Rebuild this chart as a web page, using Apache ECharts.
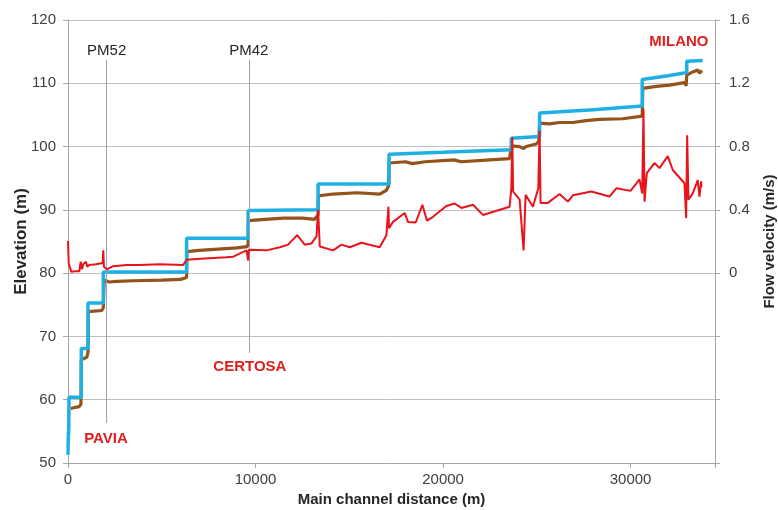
<!DOCTYPE html>
<html>
<head>
<meta charset="utf-8">
<script src="https://cdn.jsdelivr.net/npm/echarts@6/dist/echarts.min.js"></script>
<style>
html,body{margin:0;padding:0;background:#fff;}
#chart{width:778px;height:510px;}
</style>
</head>
<body>
<div id="chart"></div>
<script>
// Top of levee / channel (blue), elevation m vs distance m
const bankLevel = [
  [0,51.3],[20,55.0],[35,54.6],[55,60.4],[709,60.4],[709,68.1],[1066,68.1],[1066,75.3],
  [1881,75.3],[1881,80.2],[6324,80.2],[6324,85.5],[9606,85.5],[9606,89.9],[13335,90.0],
  [13335,94.1],[17118,94.1],[17118,98.8],[20000,99.1],[23639,99.5],[23639,101.3],
  [25147,101.6],[25147,105.3],[28000,105.8],[30618,106.4],[30618,110.6],[32000,111.2],
  [32994,111.7],[32994,113.5],[33846,113.6]
];
// Water surface (brown), elevation m
const waterLevel = [
  [150,58.6],[400,58.8],[600,58.9],[690,59.3],[709,66.3],[850,66.5],[1000,66.7],[1066,67.5],
  [1080,73.9],[1400,74.0],[1800,74.1],[1881,74.5],[1930,78.9],[2200,78.6],[2600,78.7],
  [3500,78.8],[5000,78.9],[6000,79.0],[6324,79.3],[6340,83.4],[7000,83.6],[8000,83.8],
  [9000,84.0],[9550,84.2],[9606,84.6],[9620,88.3],[10500,88.5],[11500,88.7],[12500,88.7],
  [13150,88.5],[13335,89.2],[13350,92.2],[14134,92.5],[15400,92.7],[16622,92.5],
  [16979,93.1],[17100,93.8],[17118,97.4],[18000,97.6],[18350,97.3],[19050,97.6],
  [20600,97.9],[20950,97.6],[22500,97.9],[23548,98.1],[23639,100.1],[24081,100.0],
  [24294,99.7],[24430,100.0],[24960,100.4],[25100,100.8],[25147,103.7],[25660,103.6],
  [26212,103.8],[26921,103.8],[27630,104.1],[28340,104.3],[29570,104.4],[30618,104.8],
  [30650,109.2],[31370,109.5],[32080,109.7],[32872,110.1],[32962,109.6],[32994,111.3],
  [33310,111.8],[33580,112.1],[33671,111.6],[33810,112.0]
];
// Flow velocity (red), m/s
const flowVelocity = [
  [0,0.204],[37,0.064],[176,0.008],[373,0.012],[602,0.012],[677,0.072],[746,0.024],
  [815,0.056],[959,0.072],[1028,0.04],[1135,0.052],[1500,0.056],[1849,0.064],[1881,0.144],
  [1918,0.04],[2062,0.024],[2413,0.044],[3127,0.052],[3836,0.052],[4901,0.056],[6143,0.052],
  [6324,0.084],[6675,0.088],[7741,0.096],[8455,0.10],[8807,0.104],[9521,0.144],[9606,0.08],
  [9643,0.148],[10586,0.144],[11295,0.164],[11737,0.18],[12216,0.24],[12627,0.18],
  [12984,0.188],[13250,0.232],[13335,0.40],[13426,0.168],[14134,0.144],[14582,0.18],
  [15024,0.164],[15647,0.192],[16622,0.164],[16979,0.24],[17086,0.42],[17118,0.284],
  [17331,0.324],[17954,0.38],[18130,0.324],[18540,0.32],[18897,0.432],[19142,0.332],
  [19462,0.356],[20176,0.424],[20618,0.44],[20975,0.412],[21593,0.432],[22126,0.368],
  [23548,0.42],[23639,0.536],[23692,0.86],[23735,0.516],[24081,0.464],[24294,0.144],
  [24401,0.496],[24790,0.42],[25077,0.536],[25147,0.90],[25200,0.444],[25589,0.444],
  [26212,0.50],[26654,0.452],[26921,0.492],[27901,0.516],[28876,0.484],[29233,0.536],
  [29995,0.52],[30474,0.592],[30618,0.504],[30687,1.036],[30741,0.452],[30863,0.632],
  [31273,0.696],[31540,0.664],[31982,0.74],[32249,0.652],[32872,0.568],[32962,0.348],
  [33015,0.872],[33085,0.464],[33314,0.504],[33580,0.588],[33671,0.484],[33761,0.58],
  [33777,0.544]
];
// Pumping-station markers (distance m) and place names
const markerNames = ['PM52','PM42'];
const markerDistance = [2062, 9643];
const markerSpan = [[56.3,113.7],[67.4,113.7]];
const placeNames = ['PAVIA','CERTOSA','MILANO'];
const placeAnchor = [[2024,53.8],[9697,65.2],[32574,116.5]];

const xTicks = [0,10000,20000,30000];

const chart = echarts.init(document.getElementById('chart'));
const FONT = 'Liberation Sans, Arial, sans-serif';
const gridGray = '#BFBFBF';
const axisGray = '#A6A6A6';
const txt = '#404040';

const option = {
  animation: false,
  backgroundColor: '#fff',
  grid: {left: 68, right: 63, top: 20, bottom: 47, containLabel: false, outerBoundsMode: 'none'},
  xAxis: {
    type: 'value', min: 0, max: 34500, interval: 10000,
    name: 'Main channel distance (m)', nameLocation: 'middle', nameGap: 26,
    nameTextStyle: {fontFamily: FONT, fontSize: 15, fontWeight: 'bold', color: '#262626'},
    axisLine: {show: true, onZero: false, lineStyle: {color: axisGray, width: 1}},
    axisTick: {show: true, length: 5, lineStyle: {color: axisGray}},
    axisLabel: {
      fontFamily: FONT, fontSize: 15, color: txt, margin: 9,
      formatter: v => xTicks.indexOf(Math.round(v)) >= 0 ? String(Math.round(v)) : ''
    },
    splitLine: {show: false}
  },
  yAxis: [
    {
      type: 'value', min: 50, max: 120, interval: 10, position: 'left',
      name: 'Elevation (m)', nameLocation: 'middle', nameGap: 38, nameRotate: 90,
      nameMoveOverlap: false,
      nameTextStyle: {fontFamily: FONT, fontSize: 17, fontWeight: 'bold', color: '#262626'},
      axisLine: {show: true, onZero: false, lineStyle: {color: axisGray, width: 1}},
      axisTick: {show: true, length: 5, lineStyle: {color: axisGray}},
      axisLabel: {fontFamily: FONT, fontSize: 15, color: txt, margin: 12},
      splitLine: {show: true, lineStyle: {color: gridGray, width: 1}}
    },
    {
      type: 'value', min: -1.2, max: 1.6, interval: 0.4, position: 'right',
      name: 'Flow velocity (m/s)', nameLocation: 'middle', nameGap: 47, nameRotate: 90,
      nameTextStyle: {fontFamily: FONT, fontSize: 15, fontWeight: 'bold', color: '#262626'},
      axisLine: {show: true, onZero: false, lineStyle: {color: axisGray, width: 1}},
      axisTick: {show: true, length: 5, lineStyle: {color: axisGray}},
      axisLabel: {
        fontFamily: FONT, fontSize: 15, color: txt, margin: 14,
        formatter: v => v < -1e-6 ? '' : String(Math.round(v * 10) / 10)
      },
      splitLine: {show: false}
    }
  ],
  series: [
    {
      name: 'Water surface', type: 'line', yAxisIndex: 0, data: waterLevel,
      showSymbol: false, symbol: 'none', z: 3,
      lineStyle: {color: '#93531A', width: 3.2}
    },
    {
      name: 'Bank level', type: 'line', yAxisIndex: 0, data: bankLevel,
      showSymbol: false, symbol: 'none', z: 4,
      lineStyle: {color: '#1FB0E3', width: 3.5},
      markLine: {
        silent: true, symbol: ['none','none'],
        lineStyle: {color: '#93A5BC', width: 1, type: 'solid'},
        label: {show: false},
        data: markerDistance.map((d, i) => [
          {coord: [d, markerSpan[i][0]]},
          {coord: [d, markerSpan[i][1]]}
        ])
      },
      markPoint: {
        silent: true, symbol: 'circle', symbolSize: 0,
        data: markerNames.map((n, i) => ({
          name: n, coord: [markerDistance[i], 115.2], value: n,
          label: {show: true, formatter: n, position: 'inside',
            fontFamily: FONT, fontSize: 15, color: '#262626'}
        })).concat(placeNames.map((n, i) => ({
          name: n, coord: placeAnchor[i], value: n,
          label: {show: true, formatter: n, position: 'inside',
            fontFamily: FONT, fontSize: 15, fontWeight: 'bold', color: '#E0201E'}
        })))
      }
    },
    {
      name: 'Flow velocity', type: 'line', yAxisIndex: 1, data: flowVelocity,
      showSymbol: false, symbol: 'none', z: 5,
      lineStyle: {color: '#E8131B', width: 2}
    }
  ]
};
chart.setOption(option);
</script>
</body>
</html>
